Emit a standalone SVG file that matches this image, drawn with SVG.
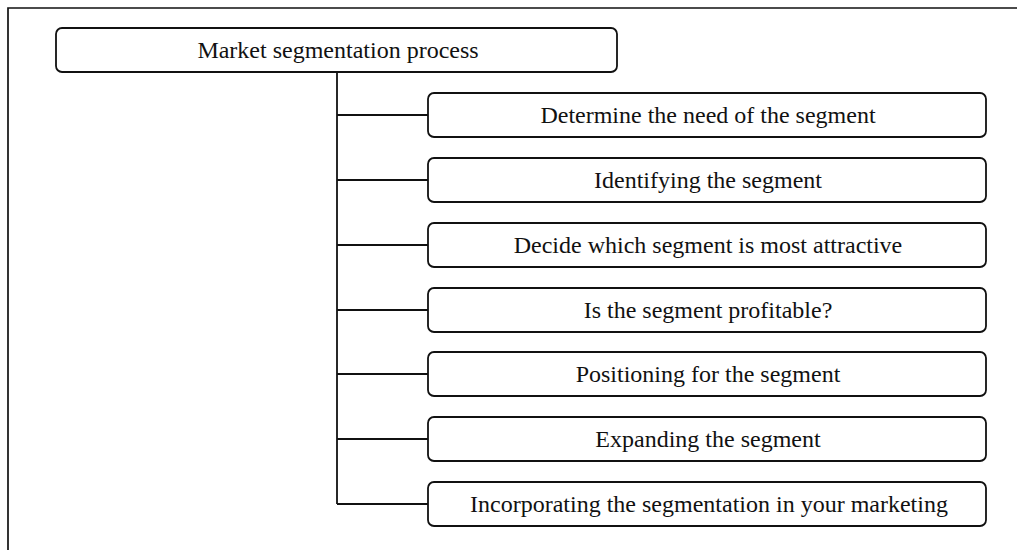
<svg xmlns="http://www.w3.org/2000/svg" width="1017" height="550" viewBox="0 0 1017 550">
  <style>
    .frame { fill: none; stroke: #111; stroke-width: 1.7; }
    .box { fill: #ffffff; stroke: #111; stroke-width: 1.8; }
    .link { fill: none; stroke: #111; stroke-width: 1.8; }
    .label { font-family: "Liberation Serif", "Times New Roman", serif; font-size: 24px; fill: #111; text-anchor: middle; }
  </style>
  <rect width="1017" height="550" fill="#ffffff"/>

  <!-- outer frame (top and left edges) -->
  <path class="frame" d="M8 550 V8 H1017"/>

  <!-- connectors: trunk from the root box and one branch per step -->
  <g id="connectors">
    <path class="link" d="M337 72 V504"/>
    <path class="link" d="M337 115 H428"/>
    <path class="link" d="M337 180 H428"/>
    <path class="link" d="M337 245 H428"/>
    <path class="link" d="M337 310 H428"/>
    <path class="link" d="M337 374 H428"/>
    <path class="link" d="M337 439 H428"/>
    <path class="link" d="M337 504 H428"/>
  </g>

  <g id="root">
    <rect class="box" x="56" y="28" width="561" height="44" rx="6"/>
    <text class="label" x="338" y="58">Market segmentation process</text>
  </g>

  <g id="step1">
    <rect class="box" x="428" y="93" width="558" height="44" rx="6"/>
    <text class="label" x="708" y="123">Determine the need of the segment</text>
  </g>
  <g id="step2">
    <rect class="box" x="428" y="158" width="558" height="44" rx="6"/>
    <text class="label" x="708" y="188">Identifying the segment</text>
  </g>
  <g id="step3">
    <rect class="box" x="428" y="223" width="558" height="44" rx="6"/>
    <text class="label" x="708" y="253">Decide which segment is most attractive</text>
  </g>
  <g id="step4">
    <rect class="box" x="428" y="288" width="558" height="44" rx="6"/>
    <text class="label" x="708" y="318">Is the segment profitable?</text>
  </g>
  <g id="step5">
    <rect class="box" x="428" y="352" width="558" height="44" rx="6"/>
    <text class="label" x="708" y="382">Positioning for the segment</text>
  </g>
  <g id="step6">
    <rect class="box" x="428" y="417" width="558" height="44" rx="6"/>
    <text class="label" x="708" y="447">Expanding the segment</text>
  </g>
  <g id="step7">
    <rect class="box" x="428" y="482" width="558" height="44" rx="6"/>
    <text class="label" x="709" y="511.5">Incorporating the segmentation in your marketing</text>
  </g>
</svg>
